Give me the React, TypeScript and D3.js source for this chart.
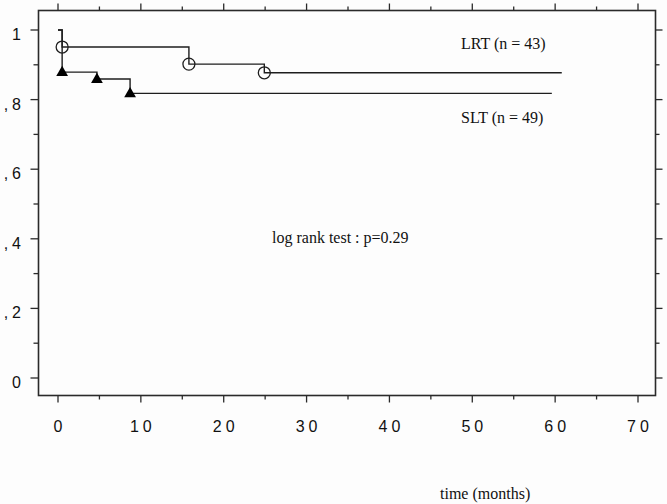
import React from "react";
import * as d3 from "d3";

// LRT group: step times (months) and survival after each step
const lrtTimes = [0, 0.5, 15.8, 24.9];
const lrtSurv = [1, 0.951, 0.902, 0.877];
const lrtEnd = 60.8;
// SLT group
const sltTimes = [0, 0.5, 4.7, 8.7];
const sltSurv = [1, 0.879, 0.859, 0.818];
const sltEnd = 59.6;

const xTicks = [0, 10, 20, 30, 40, 50, 60, 70];
const xMinor = [5, 15, 25, 35, 45, 55, 65];
const yTicks = [0, 0.2, 0.4, 0.6, 0.8, 1];
const yMinor = [0.1, 0.3, 0.5, 0.7, 0.9];
const yLabels = ["0", ",2", ",4", ",6", ",8", "1"];

const W = 667;
const H = 504;
const frame = { left: 38.5, right: 655.5, top: 10.5, bottom: 395.5 };

const x = d3.scaleLinear().domain([0, 70]).range([58, 638]);
const y = d3.scaleLinear().domain([0, 1]).range([378, 30]);

function stepPath(times: number[], surv: number[], end: number) {
  const pts: [number, number][] = [];
  for (let i = 0; i < times.length; i++) {
    if (i > 0) pts.push([times[i], surv[i - 1]]);
    pts.push([times[i], surv[i]]);
  }
  pts.push([end, surv[surv.length - 1]]);
  return d3.line<[number, number]>().x((d) => x(d[0])).y((d) => y(d[1]))(pts) || "";
}

const ink = "#1e1e1e";
const axis = "#2a2a2a";
const sans = "'Liberation Sans', Arial, sans-serif";
const serif = "'Liberation Serif', 'Times New Roman', serif";

export default function App() {
  const tri = d3.symbol().type(d3.symbolTriangle).size(60)() || "";
  return (
    <svg
      width={W}
      height={H}
      style={{ position: "absolute", left: 0, top: 0, background: "#fdfdfd" }}
    >
      {/* frame */}
      <rect
        x={frame.left}
        y={frame.top}
        width={frame.right - frame.left}
        height={frame.bottom - frame.top}
        fill="none"
        stroke={axis}
        strokeWidth={1.6}
      />
      {/* x ticks bottom & top */}
      {xTicks.map((t) => (
        <g key={"xt" + t}>
          <line x1={x(t)} x2={x(t)} y1={frame.bottom} y2={frame.bottom + 7} stroke={axis} strokeWidth={1.3} />
          <line x1={x(t)} x2={x(t)} y1={frame.top} y2={frame.top - 7} stroke={axis} strokeWidth={1.3} />
          <text
            x={x(t) + 2}
            y={432}
            textAnchor="middle"
            fontFamily={sans}
            fontSize={16}
            letterSpacing={4}
            fill="#111"
          >
            {t}
          </text>
        </g>
      ))}
      {xMinor.map((t) => (
        <g key={"xm" + t}>
          <line x1={x(t)} x2={x(t)} y1={frame.bottom} y2={frame.bottom + 4} stroke={axis} strokeWidth={1.3} />
          <line x1={x(t)} x2={x(t)} y1={frame.top} y2={frame.top - 4} stroke={axis} strokeWidth={1.3} />
        </g>
      ))}
      {/* y ticks left & right */}
      {yTicks.map((v, i) => (
        <g key={"yt" + v}>
          <line x1={frame.left} x2={frame.left - 8} y1={y(v)} y2={y(v)} stroke={axis} strokeWidth={1.3} />
          <line x1={frame.right} x2={frame.right + 7} y1={y(v)} y2={y(v)} stroke={axis} strokeWidth={1.3} />
          <text
            x={25}
            y={y(v) + 10}
            textAnchor="end"
            fontFamily={sans}
            fontSize={16}
            letterSpacing={4}
            fill="#111"
          >
            {yLabels[i]}
          </text>
        </g>
      ))}
      {yMinor.map((v) => (
        <g key={"ym" + v}>
          <line x1={frame.left} x2={frame.left - 5} y1={y(v)} y2={y(v)} stroke={axis} strokeWidth={1.3} />
          <line x1={frame.right} x2={frame.right + 4} y1={y(v)} y2={y(v)} stroke={axis} strokeWidth={1.3} />
        </g>
      ))}
      {/* curves */}
      <path d={stepPath(lrtTimes, lrtSurv, lrtEnd)} fill="none" stroke={ink} strokeWidth={1.4} />
      <path d={stepPath(sltTimes, sltSurv, sltEnd)} fill="none" stroke={ink} strokeWidth={1.4} />
      {lrtTimes.slice(1).map((t, i) => (
        <circle
          key={"c" + t}
          cx={x(t)}
          cy={y(lrtSurv[i + 1])}
          r={6}
          fill="none"
          stroke={ink}
          strokeWidth={1.3}
        />
      ))}
      {sltTimes.slice(1).map((t, i) => (
        <path
          key={"tr" + t}
          d={tri}
          transform={`translate(${x(t)},${y(sltSurv[i + 1]) + 0.5})`}
          fill="#000"
        />
      ))}
      {/* annotations */}
      <text x={461} y={49} fontFamily={serif} fontSize={16} fill="#111">
        LRT (n = 43)
      </text>
      <text x={461} y={123} fontFamily={serif} fontSize={16} fill="#111">
        SLT (n = 49)
      </text>
      <text x={272} y={243} fontFamily={serif} fontSize={16} fill="#111">
        log rank test : p=0.29
      </text>
      <text x={440} y={498.5} fontFamily={serif} fontSize={16} fill="#111">
        time (months)
      </text>
    </svg>
  );
}
